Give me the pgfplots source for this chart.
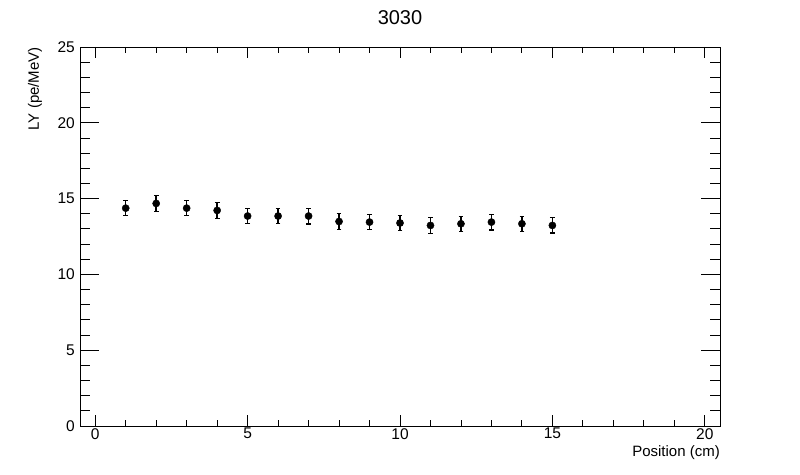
\documentclass[border=0pt]{standalone}
\usepackage{fontspec}
\setmainfont{Liberation Sans}
\usepackage{pgfplots}
\pgfplotsset{compat=1.18}

\pgfplotstableread{
pos  ly     err
1    14.37  0.50
2    14.68  0.52
3    14.37  0.50
4    14.22  0.52
5    13.85  0.50
6    13.85  0.50
7    13.85  0.52
8    13.49  0.53
9    13.45  0.50
10   13.39  0.50
11   13.23  0.52
12   13.34  0.50
13   13.45  0.52
14   13.34  0.50
15   13.23  0.50
}\lydata

\begin{document}
\begin{tikzpicture}
  \fontsize{15}{18}\selectfont
  \path (0pt,0pt) rectangle (800pt,474pt);

  \begin{axis}[
    at={(80pt,48pt)}, anchor=south west,
    width=640pt, height=379pt, scale only axis,
    xmin=-0.5, xmax=20.5,
    ymin=0, ymax=25,
    xtick={0,5,...,20},
    ytick={0,5,...,25},
    minor tick num=4,
    tick align=inside,
    axis line style={line width=0.9pt},
    major tick length=11pt,
    minor tick length=6pt,
    xtick style={line width=0.9pt, black},
    ytick style={line width=0.9pt, black,
      /pgfplots/major tick length=19pt,
      /pgfplots/minor tick length=10pt},
    /pgf/number format/assume math mode=true,
    ticklabel style={font=\fontsize{15.5}{18}\selectfont},
    xticklabel style={inner sep=2pt},
  ]
    \addplot [only marks, black, mark=*, mark size=3.6pt,
      error bars/.cd, y dir=both, y explicit,
      error bar style={line width=1.4pt, black},
      error mark options={rotate=90, mark size=2.4pt, line width=1.2pt, black}]
      table [x=pos, y=ly, y error=err] {\lydata};
  \end{axis}

  \node [font=\fontsize{20}{24}\selectfont, inner sep=0pt] at (400pt,456pt) {3030};
  \node [rotate=90, anchor=east, inner sep=0pt] at (35pt,427pt) {LY (pe/MeV)};
  \node [anchor=east, inner sep=0pt] at (720pt,21pt) {Position (cm)};
\end{tikzpicture}
\end{document}
